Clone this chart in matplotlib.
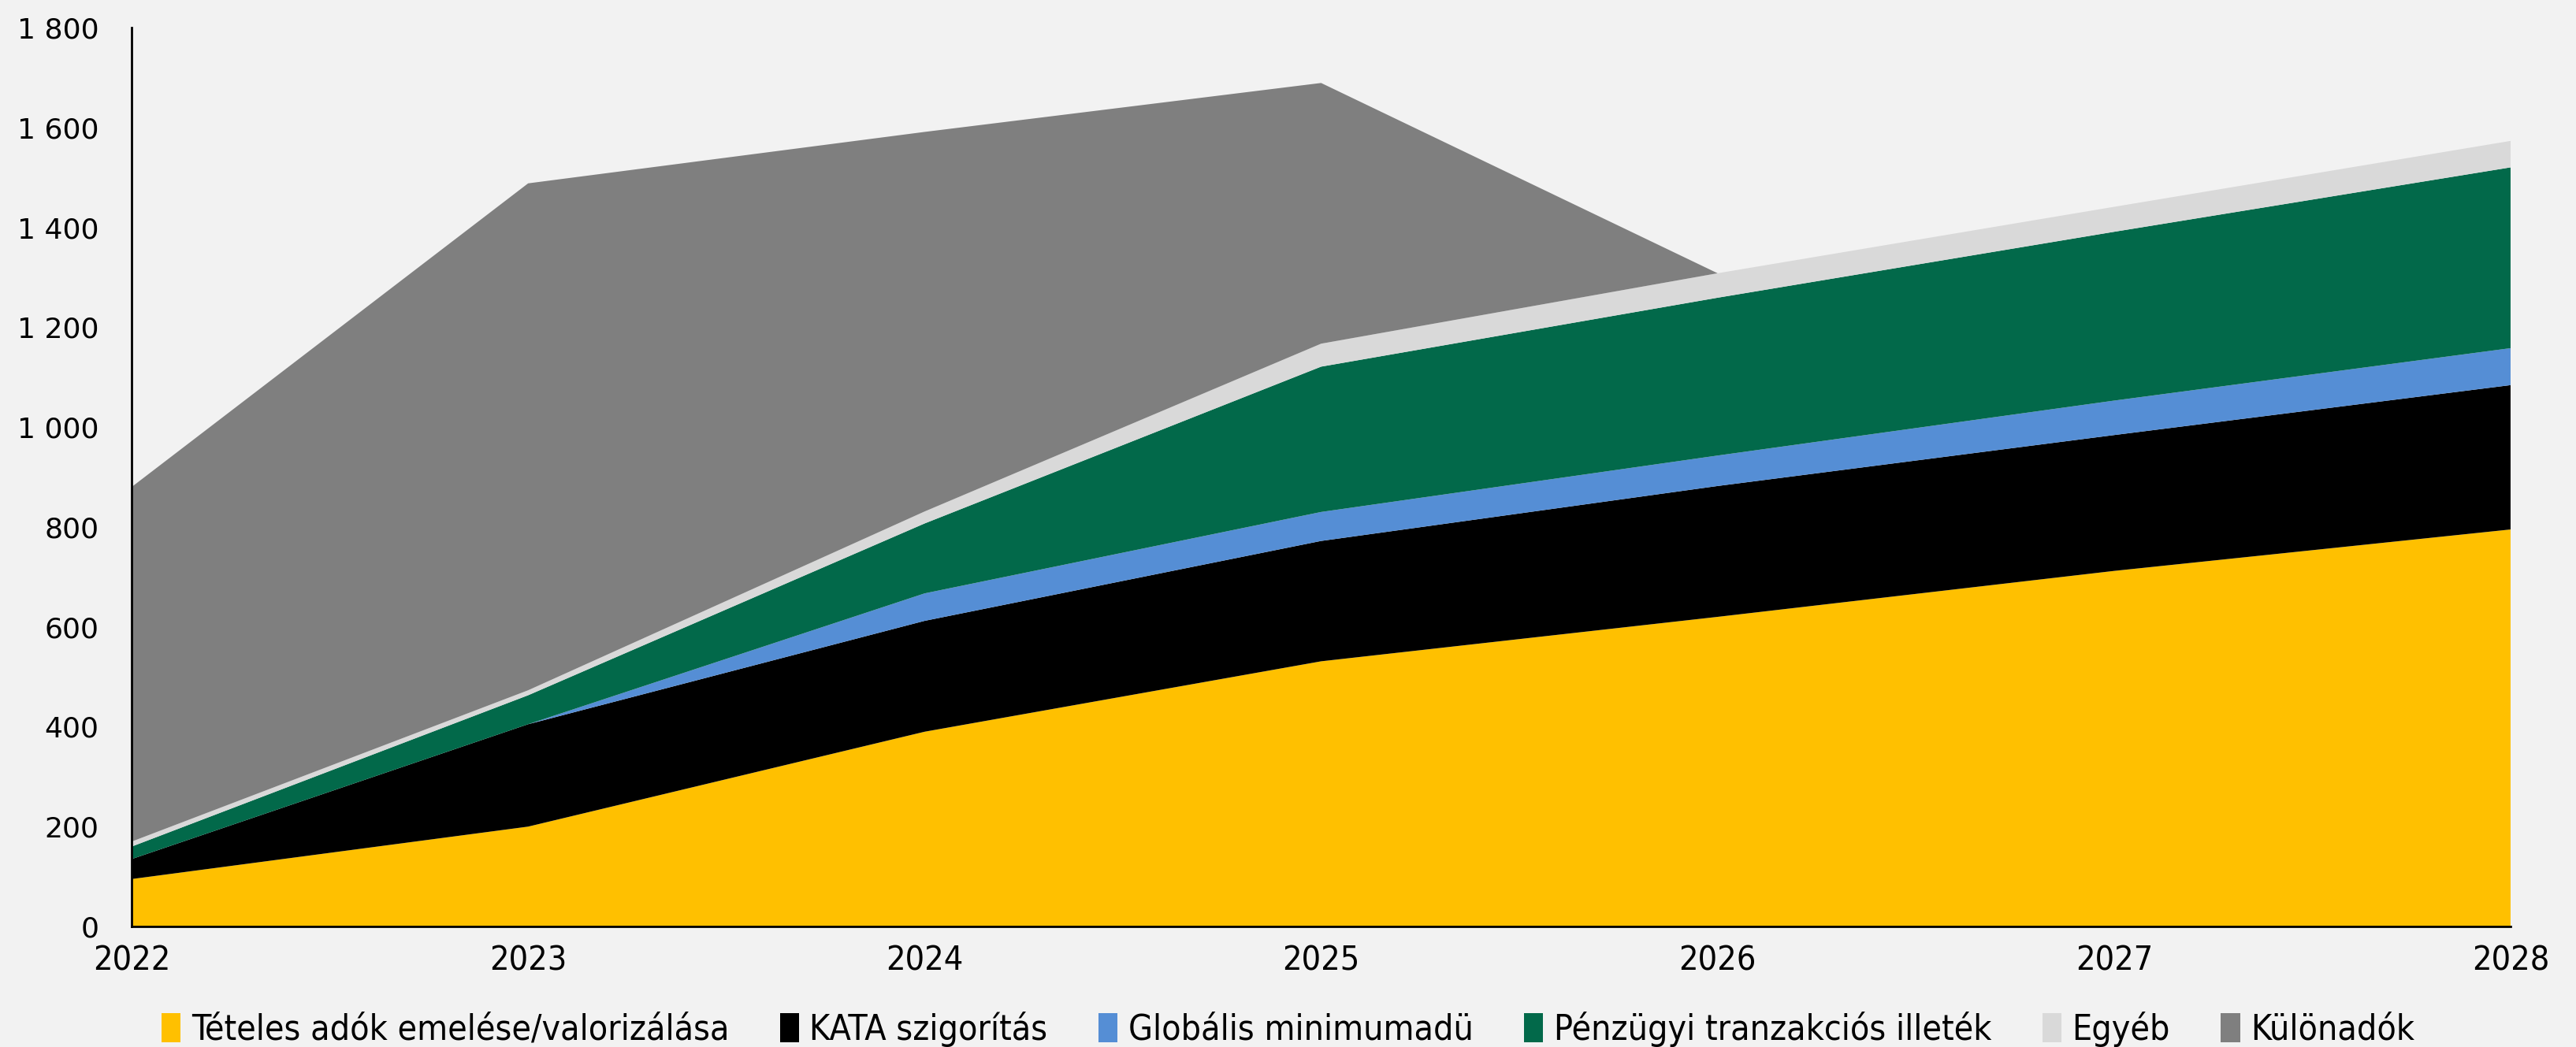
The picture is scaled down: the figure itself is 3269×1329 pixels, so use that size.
import matplotlib.pyplot as plt
from matplotlib.ticker import FuncFormatter

# adatok (mrd Ft), leolvasva az ábráról
evek = [2022, 2023, 2024, 2025, 2026, 2027, 2028]
teteles = [95, 200, 390, 531, 620, 712, 795]
kata = [40, 205, 222, 241, 262, 272, 289]
globalis = [0, 0, 55, 58, 61, 69, 74]
penzugyi = [25, 58, 140, 291, 316, 338, 362]
egyeb = [10, 10, 24, 46, 49, 50, 53]
kulonadok = [710, 1015, 760, 522, 0, 0, 0]

nevek = ["Tételes adók emelése/valorizálása", "KATA szigorítás", "Globális minimumadü",
         "Pénzügyi tranzakciós illeték", "Egyéb", "Különadók"]
szinek = ["#FFC000", "#000000", "#558ED5", "#02694A", "#D9D9D9", "#7F7F7F"]

hatter = "#F2F2F2"

fig = plt.figure(figsize=(32.69, 13.29), dpi=100, facecolor=hatter)
ax = fig.add_axes([0.0511, 0.1151, 0.9235, 0.8586], facecolor=hatter)

ax.stackplot(evek, teteles, kata, globalis, penzugyi, egyeb, kulonadok,
             labels=nevek, colors=szinek, linewidth=0)

ax.set_xlim(2022, 2028)
ax.set_ylim(0, 1800)
ax.set_xticks(evek)
ax.set_yticks(range(0, 1801, 200))
ax.yaxis.set_major_formatter(FuncFormatter(lambda v, p: f"{int(v):,}".replace(",", " ")))

for s in ["top", "right"]:
    ax.spines[s].set_visible(False)
ax.spines["left"].set_linewidth(2)
ax.spines["bottom"].set_linewidth(2)
ax.tick_params(length=0)
ax.tick_params(axis="y", labelsize=26, pad=30)
ax.tick_params(axis="x", labelsize=31, pad=16)
for t in ax.get_xticklabels():
    t.set_fontstretch("condensed")

leg = fig.legend(loc="lower center", ncol=6, bbox_to_anchor=(0.5, -0.03), frameon=False,
                 prop={"size": 32, "stretch": "condensed"}, handlelength=0.55, handleheight=0.9,
                 handletextpad=0.3, columnspacing=1.45)

fig.savefig("out.png", dpi=100, facecolor=hatter)
